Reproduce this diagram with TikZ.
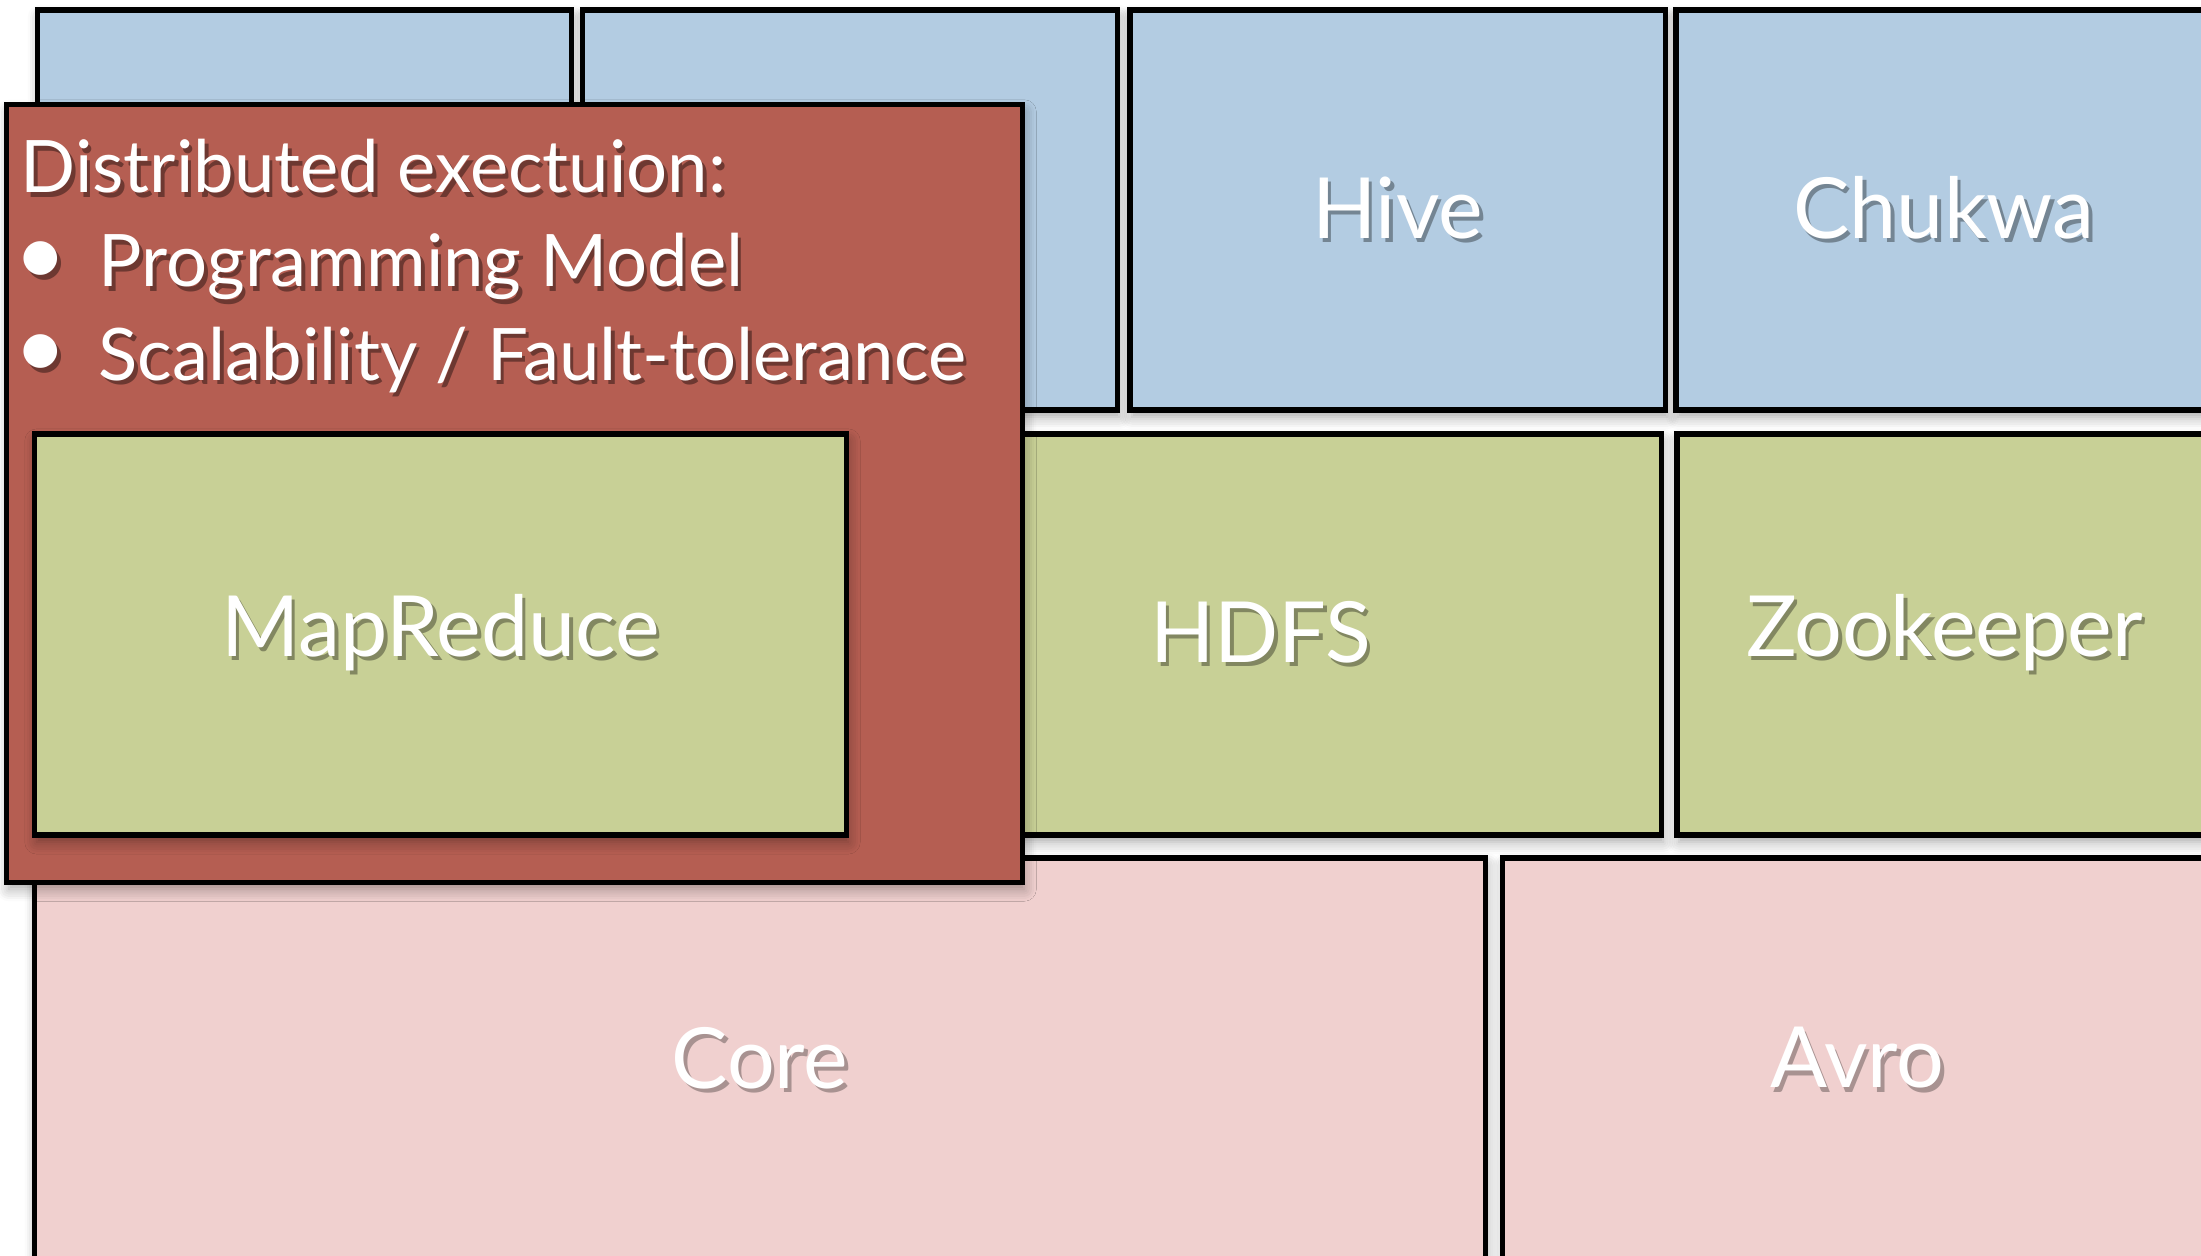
\documentclass[tikz,border=0pt]{standalone}
\usepackage{fontspec}
\setmainfont{Lato}
\usetikzlibrary{shadows.blur}
\definecolor{appblue}{RGB}{179,204,226}
\definecolor{storegreen}{RGB}{200,208,150}
\definecolor{basepink}{RGB}{240,208,207}
\definecolor{execred}{RGB}{181,94,82}
% white text with a soft shadow under it
\newcommand{\softtxt}[2]{\makebox[0pt][l]{\kern1pt\raisebox{-1.2pt}{\color{#1}#2}}#2}
\newcommand{\bul}{\makebox[0.84cm][l]{\raisebox{0.3pt}{\scalebox{1.25}{\textbullet}}}}
\tikzset{
  box/.style={draw=black, line width=1.5pt, inner sep=0pt, text=white,
    font=\fontsize{24}{29}\selectfont,
    blur shadow={shadow xshift=0.02cm, shadow yshift=-0.07cm,
      shadow blur steps=6, shadow blur radius=0.12cm, shadow opacity=35}},
  toprow/.style={box, fill=appblue, minimum height=4cm},
  midrow/.style={box, fill=storegreen, minimum height=4.01cm},
  lowrow/.style={box, fill=basepink, minimum height=4.04cm},
  bullettext/.style={anchor=base west, inner sep=0pt, text=white,
    font=\fontsize{20.6}{25}\selectfont}
}
\begin{document}
\begin{tikzpicture}[x=0.01cm, y=-0.01cm]
  \useasboundingbox (0,0) rectangle (2201,1255);
  \clip (0,0) rectangle (2201,1255);
  % top row
  \node[toprow, minimum width=5.33cm] (appA) at (304.5,210) {};
  \node[toprow, minimum width=5.34cm] (appB) at (850,210) {};
  \node[toprow, minimum width=5.35cm] (hive) at (1397.5,210) {\softtxt{appblue!65!black}{Hive}};
  \node[toprow, minimum width=5.36cm] (chukwa) at (1944,210) {\softtxt{appblue!65!black}{Chukwa}};
  % middle row
  \node[midrow, minimum width=8.01cm] (hdfs) at (1260.5,634.5) {\softtxt{storegreen!65!black}{HDFS}};
  \node[midrow, minimum width=5.35cm] (zk) at (1944.5,634.5) {\softtxt{storegreen!65!black}{Zookeeper}};
  % bottom row
  \node[lowrow, minimum width=14.5cm] (core) at (760,1060) {\softtxt{basepink!70!black}{Core}};
  \node[lowrow, minimum width=7.09cm] (avro) at (1857.5,1060) {\softtxt{basepink!70!black}{Avro}};
  % highlighted execution layer
  \node[box, fill=execred, minimum width=10.15cm, minimum height=7.77cm] (exec) at (514.5,493.5) {};
  \node[bullettext] (title) at (20,193) {\softtxt{execred!60!black}{Distributed exectuion:}};
  \node[bullettext] (prog) at (14,287) {\softtxt{execred!60!black}{\bul Programming Model}};
  \node[bullettext] (scal) at (14,380) {\softtxt{execred!60!black}{\bul Scalability / Fault-tolerance}};
  \node[midrow, minimum width=8.11cm] (mapred) at (440.5,634.5) {\softtxt{storegreen!65!black}{MapReduce}};
\end{tikzpicture}
\end{document}
